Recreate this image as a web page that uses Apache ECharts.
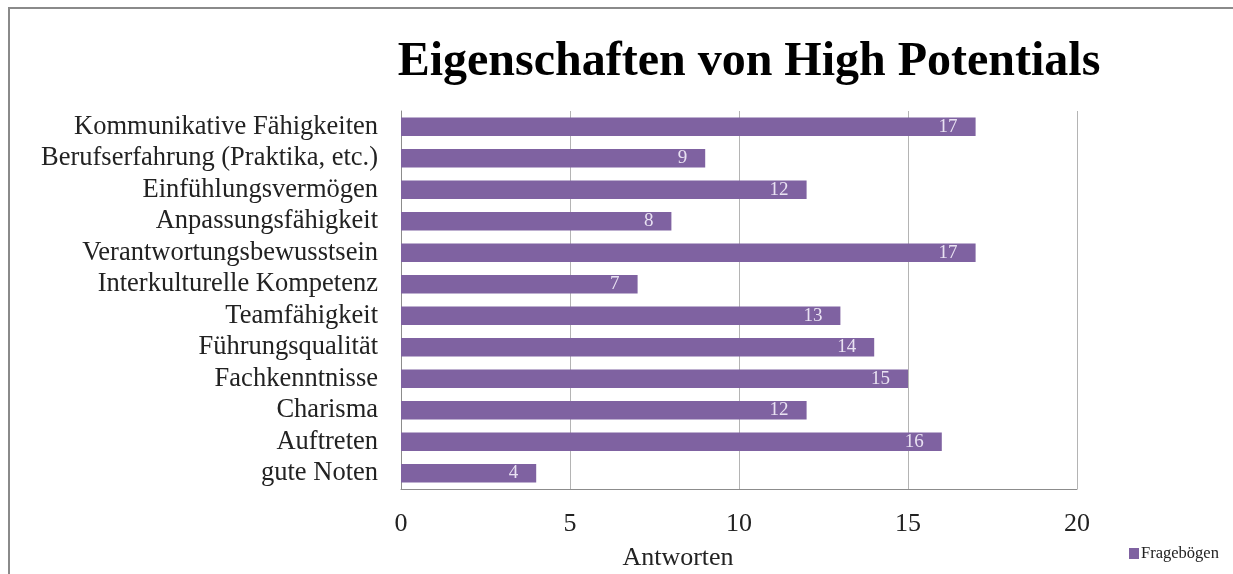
<!DOCTYPE html>
<html>
<head>
<meta charset="utf-8">
<script src="https://cdn.jsdelivr.net/npm/echarts@6/dist/echarts.min.js"></script>
<style>
  html, body { margin: 0; padding: 0; background: #fff; }
  #chart { width: 1233px; height: 574px; }
</style>
</head>
<body>
<div id="chart"></div>
<script>
// Survey answers: qualities of high potentials
const categories = [
  'Kommunikative Fähigkeiten',
  'Berufserfahrung (Praktika, etc.)',
  'Einfühlungsvermögen',
  'Anpassungsfähigkeit',
  'Verantwortungsbewusstsein',
  'Interkulturelle Kompetenz',
  'Teamfähigkeit',
  'Führungsqualität',
  'Fachkenntnisse',
  'Charisma',
  'Auftreten',
  'gute Noten'
];
const answers = [17, 9, 12, 8, 17, 7, 13, 14, 15, 12, 16, 4];
const seriesName = 'Fragebögen';
const axisTitle = 'Antworten';
const chartTitle = 'Eigenschaften von High Potentials';

const serif = '"Liberation Serif", "DejaVu Serif", serif';
const chart = echarts.init(document.getElementById('chart'), null, { renderer: 'canvas' });

chart.setOption({
  backgroundColor: '#ffffff',
  animation: false,
  title: {
    text: chartTitle,
    left: 744,
    textAlign: 'center',
    top: 34,
    textStyle: { fontFamily: serif, fontWeight: 'bold', fontSize: 48, color: '#000' }
  },
  graphic: [
    {
      // outer frame
      type: 'rect',
      shape: { x: 9, y: 8, width: 1300, height: 700 },
      style: { fill: 'none', stroke: '#8a8a8a', lineWidth: 2 },
      silent: true
    },
    {
      // value axis title, sits left of the axis centre
      type: 'text',
      x: 678,
      y: 558,
      style: {
        text: axisTitle,
        font: '26px ' + serif,
        fill: '#222',
        align: 'center',
        verticalAlign: 'middle'
      },
      silent: true
    }
  ],
  legend: {
    data: [seriesName],
    left: 1124,
    top: 540,
    itemWidth: 10,
    itemHeight: 11,
    itemGap: 3,
    icon: 'rect',
    textStyle: { fontFamily: serif, fontSize: 16.5, color: '#222', padding: [0, 0, 0, -3] }
  },
  grid: { left: 401, right: 156, top: 111, bottom: 85, containLabel: false },
  xAxis: {
    type: 'value',
    min: 0,
    max: 20,
    interval: 5,
    axisLine: { show: true, lineStyle: { color: '#8c8c8c', width: 1 } },
    axisTick: { show: false },
    axisLabel: { margin: 22, fontFamily: serif, fontSize: 26, color: '#222' },
    splitLine: { show: true, lineStyle: { color: '#b4b4b4', width: 1 } }
  },
  yAxis: {
    type: 'category',
    data: categories,
    inverse: true,
    axisLine: { show: true, lineStyle: { color: '#8c8c8c', width: 1 } },
    axisTick: { show: false },
    axisLabel: {
      interval: 0,
      hideOverlap: false,
      margin: 23,
      fontFamily: serif,
      fontSize: 26.5,
      lineHeight: 28,
      color: '#222'
    }
  },
  series: [{
    name: seriesName,
    type: 'bar',
    data: answers,
    barWidth: '58%',
    itemStyle: { color: '#7f62a1' },
    label: {
      show: true,
      position: 'insideRight',
      distance: 18,
      fontFamily: serif,
      fontSize: 19,
      color: '#e9e2f2'
    }
  }]
});
</script>
</body>
</html>
